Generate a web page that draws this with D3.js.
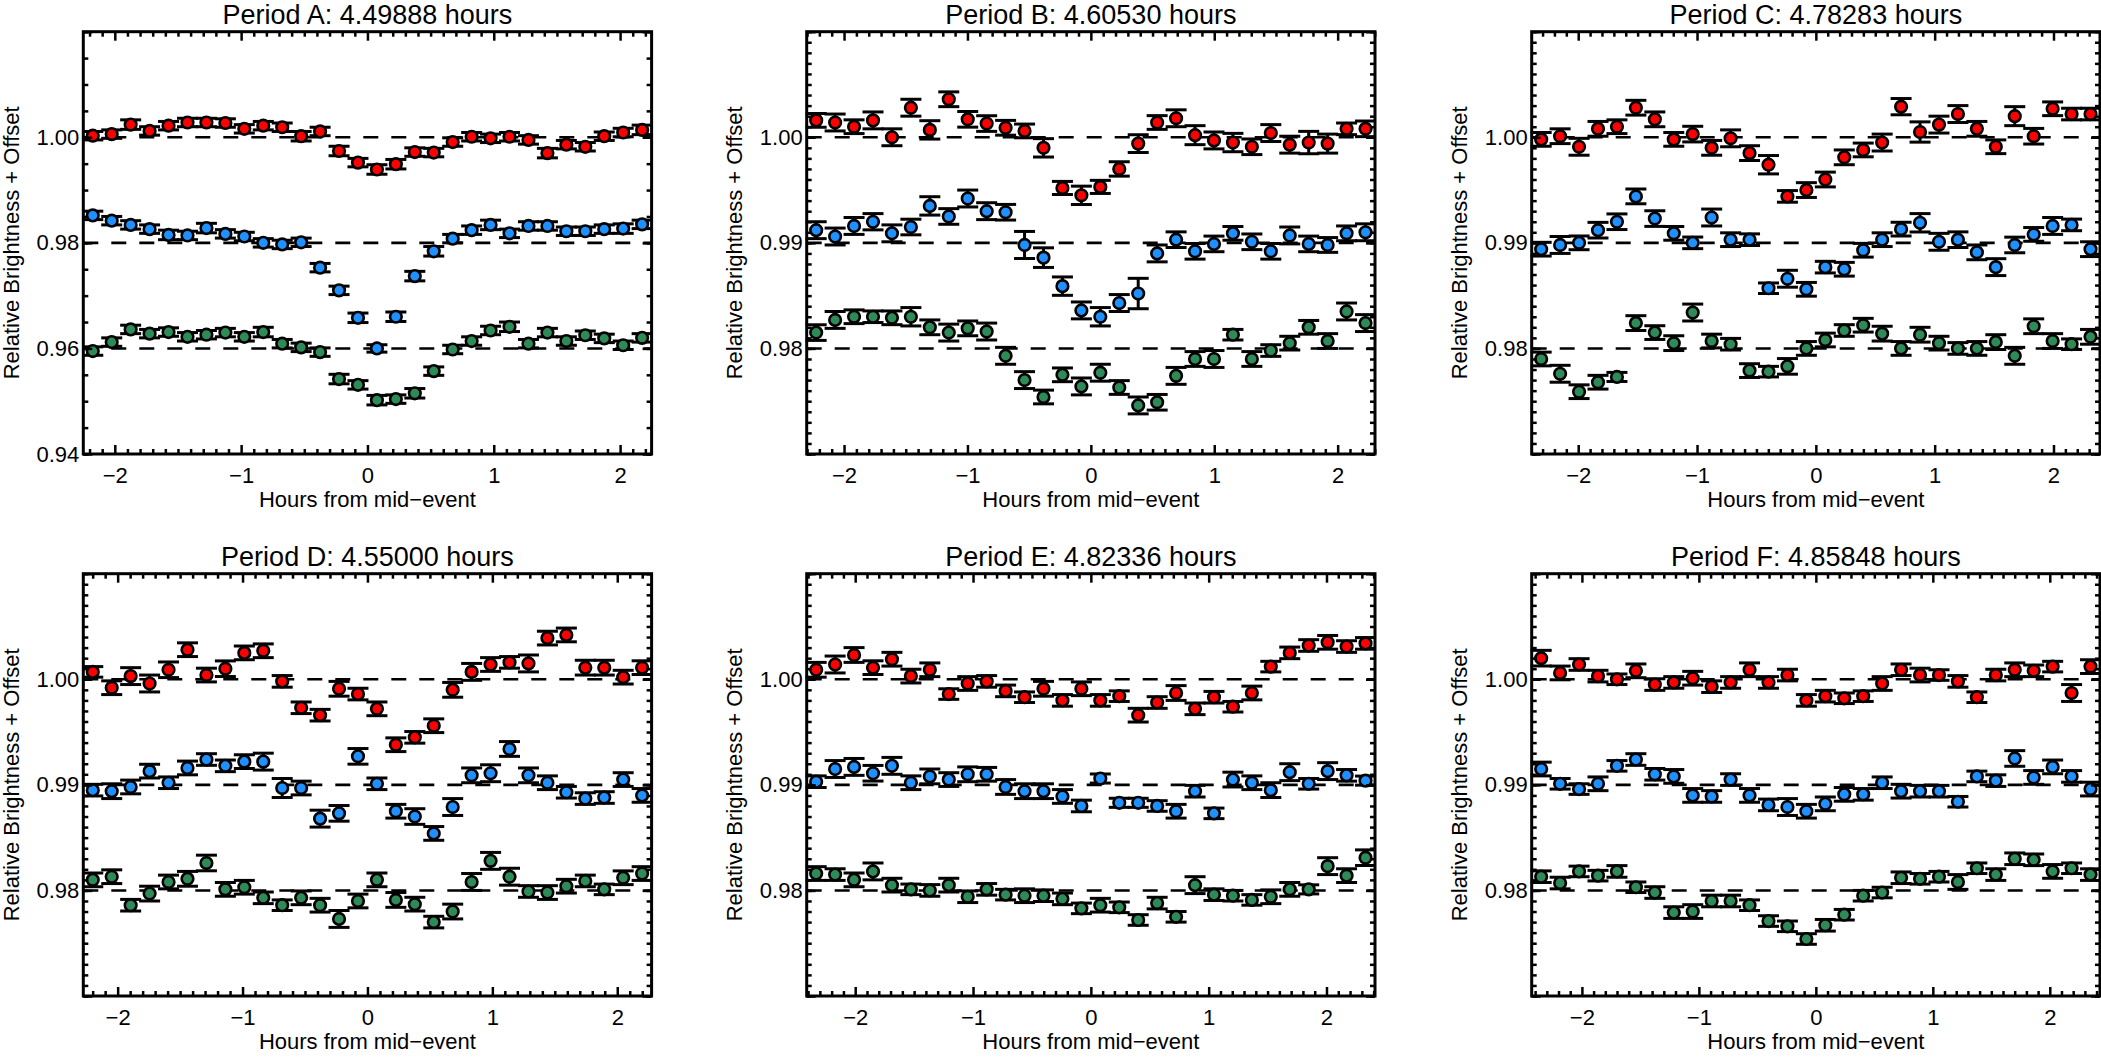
<!DOCTYPE html>
<html><head><meta charset="utf-8">
<script src="https://cdn.jsdelivr.net/npm/d3@7"></script>
<style>
body{margin:0;background:#fff}
svg text{font-family:"Liberation Sans",Arial,Helvetica,sans-serif;fill:#000}
</style>
</head><body>
<svg id="chart" width="2101" height="1057"></svg>
<script>
// ---------------- DATA ----------------
const panelTitles = ["Period A: 4.49888 hours","Period B: 4.60530 hours","Period C: 4.78283 hours",
                     "Period D: 4.55000 hours","Period E: 4.82336 hours","Period F: 4.85848 hours"];
const periods = [4.49888, 4.60530, 4.78283, 4.55000, 4.82336, 4.85848];
const nBins = 30;
const xTickValues = [-2, -1, 0, 1, 2];
const yDomainA = [0.94, 1.02];
const yDomainOther = [0.97, 1.01];
const yTickLabelsA = [0.94, 0.96, 0.98, 1.00];
const yTickLabelsOther = [0.98, 0.99, 1.00];
const refLevelsA = [1.00, 0.98, 0.96];
const refLevelsOther = [1.00, 0.99, 0.98];
const xLabel = "Hours from mid\u2212event";
const yLabel = "Relative Brightness + Offset";

const aRed = [1.0003,1.0006,1.0024,1.0012,1.0022,1.0028,1.0028,1.0027,1.0016,1.0022,1.0019,1.0002,1.0011,0.9974,0.9952,0.9939,0.9949,0.9972,0.9971,0.9991,1.0001,0.9998,1.0001,0.9995,0.9970,0.9986,0.9982,1.0002,1.0009,1.0014];
const aBlue = [0.9852,0.9842,0.9834,0.9826,0.9815,0.9814,0.9828,0.9817,0.9812,0.9800,0.9797,0.9801,0.9753,0.9710,0.9658,0.9600,0.9660,0.9737,0.9784,0.9808,0.9824,0.9834,0.9818,0.9832,0.9832,0.9822,0.9822,0.9826,0.9827,0.9835];
const aGreen = [0.9595,0.9612,0.9636,0.9628,0.9631,0.9622,0.9626,0.9630,0.9622,0.9631,0.9609,0.9602,0.9593,0.9542,0.9531,0.9502,0.9504,0.9515,0.9557,0.9598,0.9614,0.9634,0.9641,0.9609,0.9630,0.9614,0.9625,0.9619,0.9606,0.9620];
const aRedErr = [0.0008,0.0008,0.0009,0.0008,0.0008,0.0008,0.0008,0.0008,0.0008,0.0008,0.0008,0.0009,0.0008,0.0009,0.0008,0.0009,0.0009,0.0008,0.0008,0.0008,0.0008,0.0008,0.0008,0.0008,0.0009,0.0008,0.0008,0.0008,0.0008,0.0009];
const aBlueErr = [0.0008,0.0008,0.0008,0.0008,0.0009,0.0008,0.0009,0.0008,0.0008,0.0008,0.0008,0.0008,0.0008,0.0008,0.0009,0.0007,0.0009,0.0009,0.0009,0.0008,0.0008,0.0009,0.0008,0.0008,0.0008,0.0008,0.0008,0.0008,0.0009,0.0008];
const aGreenErr = [0.0008,0.0008,0.0008,0.0008,0.0008,0.0008,0.0008,0.0008,0.0008,0.0009,0.0008,0.0008,0.0008,0.0009,0.0008,0.0009,0.0008,0.0009,0.0008,0.0008,0.0008,0.0008,0.0009,0.0008,0.0008,0.0008,0.0008,0.0008,0.0008,0.0008];

const bRed = [1.0016,1.0014,1.0010,1.0016,1.0000,1.0028,1.0007,1.0036,1.0017,1.0013,1.0009,1.0006,0.9990,0.9952,0.9945,0.9953,0.9970,0.9994,1.0014,1.0018,1.0002,0.9997,0.9995,0.9991,1.0004,0.9993,0.9995,0.9994,1.0008,1.0008];
const bBlue = [0.9912,0.9906,0.9916,0.9920,0.9909,0.9915,0.9935,0.9925,0.9942,0.9930,0.9929,0.9898,0.9886,0.9859,0.9836,0.9830,0.9843,0.9852,0.9890,0.9903,0.9892,0.9899,0.9909,0.9901,0.9892,0.9907,0.9899,0.9898,0.9909,0.9910];
const bGreen = [0.9815,0.9827,0.9830,0.9830,0.9829,0.9830,0.9820,0.9815,0.9819,0.9816,0.9793,0.9770,0.9754,0.9775,0.9764,0.9777,0.9763,0.9746,0.9749,0.9774,0.9790,0.9790,0.9813,0.9790,0.9798,0.9805,0.9820,0.9807,0.9835,0.9824];
const bRedErr = [0.00065,0.0008,0.00065,0.0008,0.0008,0.0008,0.00087,0.0007,0.00074,0.00074,0.0007,0.00065,0.00087,0.00062,0.00087,0.00062,0.00068,0.00084,0.00065,0.0008,0.0009,0.0008,0.00087,0.00074,0.0008,0.0008,0.00106,0.0009,0.00055,0.00074];
const bBlueErr = [0.0008,0.0008,0.0008,0.00077,0.0008,0.00074,0.00087,0.00074,0.0008,0.0008,0.00074,0.00128,0.00093,0.00087,0.0008,0.00087,0.0008,0.00144,0.0008,0.00074,0.00074,0.00074,0.00065,0.00074,0.00074,0.0008,0.00074,0.0007,0.0007,0.0008];
const bGreenErr = [0.00074,0.0008,0.00065,0.00055,0.00065,0.00087,0.0007,0.0008,0.0007,0.0008,0.0008,0.0008,0.00065,0.00065,0.0008,0.0008,0.00065,0.0008,0.00074,0.0008,0.0007,0.0008,0.0005,0.0007,0.00055,0.00065,0.00065,0.0007,0.0008,0.0008];

const cRed = [0.9998,1.0001,0.9991,1.0008,1.0010,1.0028,1.0017,0.9998,1.0003,0.9990,0.9999,0.9985,0.9974,0.9944,0.9950,0.9960,0.9981,0.9988,0.9995,1.0029,1.0005,1.0012,1.0022,1.0008,0.9991,1.0020,1.0001,1.0027,1.0022,1.0022];
const cBlue = [0.9894,0.9898,0.9900,0.9912,0.9920,0.9944,0.9923,0.9909,0.9900,0.9924,0.9903,0.9903,0.9857,0.9866,0.9856,0.9877,0.9875,0.9893,0.9903,0.9913,0.9919,0.9901,0.9903,0.9891,0.9877,0.9898,0.9908,0.9916,0.9917,0.9894];
const cGreen = [0.9790,0.9776,0.9759,0.9768,0.9773,0.9824,0.9815,0.9805,0.9834,0.9807,0.9804,0.9779,0.9778,0.9783,0.9800,0.9808,0.9817,0.9822,0.9814,0.9800,0.9813,0.9805,0.9800,0.9800,0.9806,0.9793,0.9821,0.9807,0.9804,0.9811];
const cRedErr = [0.00065,0.0007,0.0008,0.0007,0.00065,0.0007,0.0007,0.00065,0.00074,0.0007,0.0008,0.0007,0.00087,0.00055,0.0007,0.0007,0.0007,0.00065,0.0008,0.00077,0.00096,0.0008,0.0008,0.0007,0.00065,0.0009,0.00074,0.00065,0.00055,0.00055];
const cBlueErr = [0.00065,0.0008,0.00065,0.00074,0.00074,0.0007,0.00074,0.00065,0.00055,0.0008,0.00065,0.00055,0.0005,0.0008,0.00065,0.00055,0.00065,0.00065,0.00065,0.00065,0.00087,0.0008,0.00074,0.0007,0.0008,0.00074,0.00065,0.0008,0.00055,0.0007];
const cGreenErr = [0.00065,0.0008,0.00065,0.00065,0.00043,0.0007,0.00065,0.0007,0.0008,0.00065,0.00055,0.00065,0.0005,0.00074,0.00065,0.00065,0.00055,0.00065,0.0007,0.00065,0.0007,0.00065,0.00055,0.00065,0.0007,0.0008,0.0007,0.0007,0.0005,0.0007];

const dRed = [1.0007,0.9992,1.0003,0.9996,1.0009,1.0028,1.0004,1.0010,1.0025,1.0027,0.9998,0.9973,0.9966,0.9991,0.9986,0.9972,0.9938,0.9945,0.9956,0.9990,1.0007,1.0014,1.0016,1.0015,1.0039,1.0042,1.0011,1.0011,1.0002,1.0011];
const dBlue = [0.9895,0.9894,0.9898,0.9913,0.9902,0.9916,0.9924,0.9918,0.9922,0.9922,0.9897,0.9897,0.9868,0.9873,0.9927,0.9901,0.9875,0.9870,0.9854,0.9879,0.9909,0.9911,0.9934,0.9909,0.9902,0.9893,0.9887,0.9888,0.9905,0.9890];
const dGreen = [0.9810,0.9813,0.9786,0.9797,0.9808,0.9811,0.9826,0.9801,0.9803,0.9793,0.9786,0.9793,0.9786,0.9773,0.9790,0.9810,0.9791,0.9787,0.9770,0.9780,0.9808,0.9828,0.9813,0.9799,0.9798,0.9804,0.9809,0.9801,0.9812,0.9816];
const dRedErr = [0.0005,0.00065,0.0008,0.0008,0.00074,0.00065,0.00065,0.00074,0.00065,0.00065,0.00055,0.00055,0.00055,0.0007,0.00055,0.00065,0.00065,0.00055,0.00065,0.0007,0.0008,0.00065,0.00055,0.0008,0.00065,0.00065,0.0007,0.0007,0.00065,0.00065];
const dBlueErr = [0.00055,0.0007,0.00065,0.00065,0.00055,0.00065,0.00055,0.00055,0.00065,0.0008,0.0009,0.00065,0.0008,0.00074,0.00074,0.00055,0.00065,0.00074,0.00065,0.0008,0.0007,0.0008,0.0007,0.0007,0.00065,0.00055,0.00055,0.00055,0.00065,0.00065];
const dGreenErr = [0.00065,0.00065,0.00055,0.0007,0.00065,0.0007,0.00074,0.00065,0.00065,0.00055,0.0005,0.00065,0.00065,0.0008,0.00065,0.00065,0.0007,0.00065,0.00055,0.0007,0.0008,0.0008,0.0008,0.00055,0.00065,0.00065,0.00055,0.0005,0.00065,0.00065];

const eRed = [1.0009,1.0014,1.0023,1.0011,1.0019,1.0003,1.0009,0.9986,0.9996,0.9998,0.9989,0.9983,0.9991,0.9980,0.9991,0.9980,0.9984,0.9966,0.9978,0.9987,0.9972,0.9983,0.9974,0.9987,1.0012,1.0025,1.0032,1.0035,1.0031,1.0034];
const eBlue = [0.9903,0.9915,0.9917,0.9911,0.9918,0.9902,0.9908,0.9905,0.9910,0.9910,0.9898,0.9894,0.9894,0.9889,0.9880,0.9906,0.9883,0.9883,0.9880,0.9875,0.9894,0.9873,0.9905,0.9902,0.9895,0.9912,0.9901,0.9913,0.9909,0.9904];
const eGreen = [0.9816,0.9815,0.9810,0.9818,0.9805,0.9801,0.9800,0.9805,0.9794,0.9801,0.9796,0.9795,0.9795,0.9792,0.9783,0.9786,0.9784,0.9772,0.9788,0.9775,0.9805,0.9796,0.9795,0.9791,0.9794,0.9801,0.9801,0.9823,0.9814,0.9831];
const eRedErr = [0.0007,0.0008,0.0007,0.00065,0.00065,0.00065,0.00065,0.0005,0.00065,0.00055,0.00055,0.0005,0.0007,0.00055,0.00065,0.00055,0.0005,0.00065,0.00055,0.0007,0.00055,0.00055,0.0005,0.00065,0.0005,0.00055,0.00055,0.00065,0.00055,0.00055];
const eBlueErr = [0.00055,0.0008,0.0008,0.00074,0.0008,0.00065,0.0007,0.00065,0.0007,0.00065,0.0007,0.0007,0.0007,0.00065,0.00055,0.00043,0.00043,0.00043,0.0005,0.00065,0.00055,0.0005,0.0007,0.00065,0.0007,0.0008,0.0005,0.0008,0.00055,0.00043];
const eGreenErr = [0.00065,0.00055,0.00065,0.0008,0.00065,0.0005,0.00055,0.00065,0.00055,0.00055,0.0005,0.00065,0.00055,0.00055,0.0005,0.00065,0.0005,0.0005,0.00055,0.0005,0.0008,0.00055,0.0005,0.0005,0.00065,0.00065,0.00043,0.0008,0.00065,0.00074];

const fRed = [1.0020,1.0006,1.0014,1.0003,1.0000,1.0008,0.9995,0.9997,1.0001,0.9993,0.9997,1.0009,0.9997,1.0004,0.9980,0.9984,0.9982,0.9984,0.9996,1.0009,1.0004,1.0004,0.9998,0.9983,1.0004,1.0009,1.0008,1.0012,0.9987,1.0012];
const fBlue = [0.9915,0.9901,0.9896,0.9901,0.9918,0.9924,0.9910,0.9908,0.9890,0.9889,0.9905,0.9890,0.9881,0.9879,0.9875,0.9882,0.9891,0.9891,0.9902,0.9894,0.9894,0.9894,0.9884,0.9908,0.9904,0.9925,0.9907,0.9917,0.9908,0.9896];
const fGreen = [0.9813,0.9807,0.9818,0.9814,0.9818,0.9803,0.9798,0.9779,0.9780,0.9790,0.9790,0.9786,0.9771,0.9766,0.9754,0.9767,0.9777,0.9795,0.9798,0.9812,0.9811,0.9813,0.9808,0.9821,0.9815,0.9830,0.9829,0.9818,0.9821,0.9815];
const fRedErr = [0.00074,0.00065,0.00055,0.00055,0.0005,0.00065,0.00055,0.00055,0.00065,0.00055,0.00055,0.00065,0.00055,0.00055,0.00055,0.00055,0.0005,0.0005,0.00065,0.00055,0.00065,0.0005,0.00055,0.0005,0.00055,0.00065,0.00055,0.0005,0.0008,0.00065];
const fBlueErr = [0.00065,0.0005,0.0005,0.00065,0.0005,0.00055,0.00055,0.00065,0.00065,0.00055,0.00055,0.00065,0.00055,0.0008,0.00065,0.00065,0.00065,0.00055,0.00055,0.00065,0.00055,0.00055,0.0005,0.0005,0.00055,0.00074,0.00065,0.00065,0.00055,0.00065];
const fGreenErr = [0.00055,0.00055,0.0005,0.0005,0.00055,0.0005,0.00055,0.00055,0.00065,0.00055,0.00055,0.0005,0.0005,0.0005,0.0005,0.00055,0.0005,0.0005,0.0005,0.00055,0.0005,0.0005,0.0007,0.0005,0.00055,0.00055,0.00055,0.00065,0.0005,0.00055];

// ---------------- LAYOUT / STYLE ----------------
const seriesColors = ["#ff0000", "#1e90ff", "#2e8b57"];
const colLeft = [83.3, 806.7, 1531.7], plotW = 568.3;
const rowTop = [31.7, 573.7], plotH = 422.3;
const FONT = '"Liberation Sans", Arial, Helvetica, sans-serif';

const panels = [
  {ydom: yDomainA, minorStep: 0.005, majorStep: 0.02, labels: yTickLabelsA, refs: refLevelsA,
   series: [[aRed, aRedErr], [aBlue, aBlueErr], [aGreen, aGreenErr]]},
  {ydom: yDomainOther, minorStep: 0.001, majorStep: 0.01, labels: yTickLabelsOther, refs: refLevelsOther,
   series: [[bRed, bRedErr], [bBlue, bBlueErr], [bGreen, bGreenErr]]},
  {ydom: yDomainOther, minorStep: 0.001, majorStep: 0.01, labels: yTickLabelsOther, refs: refLevelsOther,
   series: [[cRed, cRedErr], [cBlue, cBlueErr], [cGreen, cGreenErr]]},
  {ydom: yDomainOther, minorStep: 0.001, majorStep: 0.01, labels: yTickLabelsOther, refs: refLevelsOther,
   series: [[dRed, dRedErr], [dBlue, dBlueErr], [dGreen, dGreenErr]]},
  {ydom: yDomainOther, minorStep: 0.001, majorStep: 0.01, labels: yTickLabelsOther, refs: refLevelsOther,
   series: [[eRed, eRedErr], [eBlue, eBlueErr], [eGreen, eGreenErr]]},
  {ydom: yDomainOther, minorStep: 0.001, majorStep: 0.01, labels: yTickLabelsOther, refs: refLevelsOther,
   series: [[fRed, fRedErr], [fBlue, fBlueErr], [fGreen, fGreenErr]]}
];

const svg = d3.select("#chart");
svg.append("rect").attr("width", 2101).attr("height", 1057).attr("fill", "#fff");

function styleAxis(sel, showText) {
  sel.selectAll(".domain").remove();
  sel.selectAll(".tick line").attr("stroke", "#000").attr("stroke-width", 2.5);
  if (showText) {
    sel.selectAll(".tick text").attr("font-family", FONT).attr("font-size", 22).attr("fill", "#000");
  } else {
    sel.selectAll(".tick text").remove();
  }
  sel.attr("font-family", null).attr("font-size", null);
}

panels.forEach((p, k) => {
  const col = k % 3, row = Math.floor(k / 3);
  const P = periods[k];
  const g = svg.append("g").attr("transform", `translate(${colLeft[col]},${rowTop[row]})`);
  const x = d3.scaleLinear().domain([-P / 2, P / 2]).range([0, plotW]);
  const y = d3.scaleLinear().domain(p.ydom).range([plotH, 0]);

  // reference dashed lines
  g.selectAll("line.ref").data(p.refs).join("line").attr("class", "ref")
    .attr("x1", 0).attr("x2", plotW)
    .attr("y1", d => y(d)).attr("y2", d => y(d))
    .attr("stroke", "#000").attr("stroke-width", 2.6).attr("stroke-dasharray", "15,13");

  // series
  p.series.forEach(([vals, errs], si) => {
    const pts = vals.map((v, i) => ({h: ((i + 0.5) / nBins - 0.5) * P, v: v, e: errs[i]}));
    const sg = g.append("g");
    const eb = sg.selectAll("g.eb").data(pts).join("g").attr("class", "eb");
    eb.append("line")
      .attr("x1", d => x(d.h)).attr("x2", d => x(d.h))
      .attr("y1", d => y(d.v - d.e)).attr("y2", d => y(d.v + d.e))
      .attr("stroke", "#000").attr("stroke-width", 3);
    eb.append("line")
      .attr("x1", d => x(d.h) - 10.5).attr("x2", d => x(d.h) + 10.5)
      .attr("y1", d => y(d.v + d.e)).attr("y2", d => y(d.v + d.e))
      .attr("stroke", "#000").attr("stroke-width", 3);
    eb.append("line")
      .attr("x1", d => x(d.h) - 10.5).attr("x2", d => x(d.h) + 10.5)
      .attr("y1", d => y(d.v - d.e)).attr("y2", d => y(d.v - d.e))
      .attr("stroke", "#000").attr("stroke-width", 3);
    sg.selectAll("circle").data(pts).join("circle")
      .attr("cx", d => x(d.h)).attr("cy", d => y(d.v)).attr("r", 5.8)
      .attr("fill", seriesColors[si]).attr("stroke", "#000").attr("stroke-width", 2.6);
  });

  // ticks
  const xMinor = d3.range(Math.ceil(-P / 2 * 10), Math.floor(P / 2 * 10) + 1)
    .filter(d => d % 10 !== 0).map(d => d / 10);
  const nY = Math.round((p.ydom[1] - p.ydom[0]) / p.minorStep);
  const yMinor = d3.range(0, nY + 1).map(i => +(p.ydom[0] + i * p.minorStep).toFixed(4));
  const nYM = Math.round((p.ydom[1] - p.ydom[0]) / p.majorStep);
  const yMajor = d3.range(0, nYM + 1).map(i => +(p.ydom[0] + i * p.majorStep).toFixed(4));
  const fmtX = d => d < 0 ? "\u2212" + Math.abs(d) : String(d);

  g.append("g").attr("transform", `translate(0,${plotH})`)
    .call(d3.axisBottom(x).tickValues(xMinor).tickSizeInner(-5).tickSizeOuter(0))
    .call(s => styleAxis(s, false));
  g.append("g").attr("transform", `translate(0,${plotH})`)
    .call(d3.axisBottom(x).tickValues(xTickValues).tickSizeInner(-9).tickSizeOuter(0).tickPadding(13).tickFormat(fmtX))
    .call(s => styleAxis(s, true));
  g.append("g")
    .call(d3.axisTop(x).tickValues(xMinor).tickSizeInner(-5).tickSizeOuter(0))
    .call(s => styleAxis(s, false));
  g.append("g")
    .call(d3.axisTop(x).tickValues(xTickValues).tickSizeInner(-9).tickSizeOuter(0))
    .call(s => styleAxis(s, false));

  g.append("g")
    .call(d3.axisLeft(y).tickValues(yMinor).tickSizeInner(-5).tickSizeOuter(0))
    .call(s => styleAxis(s, false));
  g.append("g")
    .call(d3.axisLeft(y).tickValues(yMajor).tickSizeInner(-9).tickSizeOuter(0))
    .call(s => styleAxis(s, false));
  g.append("g")
    .call(d3.axisLeft(y).tickValues(p.labels).tickSizeInner(0).tickSizeOuter(0).tickPadding(4).tickFormat(d3.format(".2f")))
    .call(s => styleAxis(s, true));
  g.append("g").attr("transform", `translate(${plotW},0)`)
    .call(d3.axisRight(y).tickValues(yMinor).tickSizeInner(-5).tickSizeOuter(0))
    .call(s => styleAxis(s, false));
  g.append("g").attr("transform", `translate(${plotW},0)`)
    .call(d3.axisRight(y).tickValues(yMajor).tickSizeInner(-9).tickSizeOuter(0))
    .call(s => styleAxis(s, false));

  // frame
  g.append("rect").attr("x", 0).attr("y", 0).attr("width", plotW).attr("height", plotH)
    .attr("fill", "none").attr("stroke", "#000").attr("stroke-width", 3);

  // texts
  g.append("text").attr("x", plotW / 2).attr("y", -7.5).attr("text-anchor", "middle")
    .attr("font-size", 27).attr("font-family", FONT).text(panelTitles[k]);
  g.append("text").attr("x", plotW / 2).attr("y", plotH + 53).attr("text-anchor", "middle")
    .attr("font-size", 22).attr("font-family", FONT).text(xLabel);
  g.append("text").attr("transform", `translate(-64.5,${plotH / 2}) rotate(-90)`)
    .attr("text-anchor", "middle").attr("font-size", 22).attr("font-family", FONT).text(yLabel);
});
</script>
</body></html>
